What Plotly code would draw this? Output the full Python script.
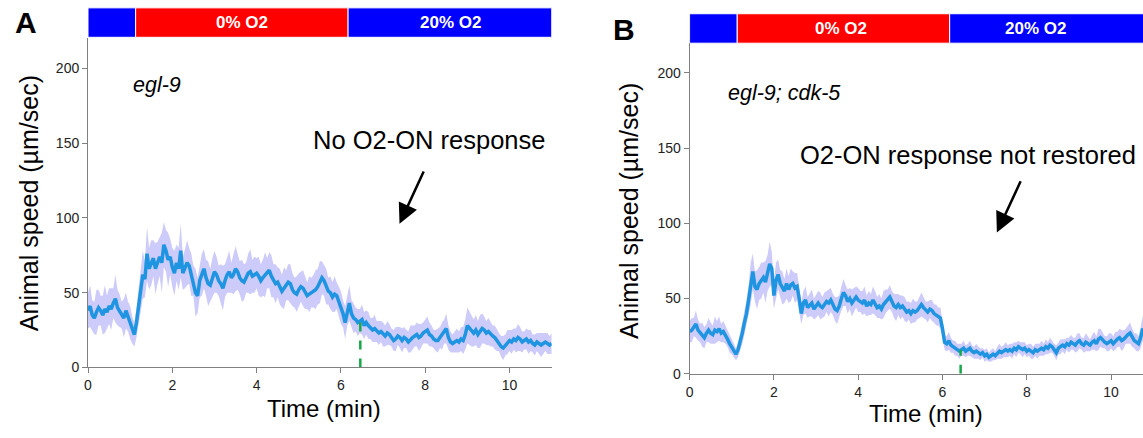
import numpy as np
import plotly.graph_objects as go

# ---- data -------------------------------------------------------------
DT = 0.05  # sampling interval of the speed traces (min)

# panel A: egl-9, mean animal speed (um/sec) and SEM
speed_a = [
    38, 41, 35, 33, 37, 40, 38, 35, 39, 37, 41, 39, 43, 46, 40, 38, 35, 33, 38, 34,
    30, 25, 22, 30, 40, 50, 62, 59, 76, 66, 70, 73, 66, 70, 74, 70, 82, 78, 72, 74,
    67, 63, 70, 66, 78, 63, 66, 70, 68, 62, 58, 50, 48, 58, 62, 66, 60, 56, 55, 60,
    64, 62, 58, 56, 53, 58, 62, 64, 60, 62, 66, 64, 60, 58, 57, 60, 63, 64, 61, 62,
    63, 61, 58, 60, 62, 63, 65, 61, 58, 56, 57, 54, 51, 53, 55, 57, 56, 52, 50, 49,
    52, 54, 53, 50, 48, 49, 50, 51, 52, 54, 57, 60, 58, 54, 51, 50, 47, 49, 48, 44,
    40, 36, 30, 38, 43, 36, 33, 32, 30, 31, 32, 28, 30, 28, 26, 25, 26, 24, 23, 24,
    22, 21, 23, 22, 20, 18, 19, 21, 20, 18, 20, 19, 17, 19, 20, 21, 22, 20, 21, 23,
    24, 25, 22, 21, 19, 18, 18, 20, 21, 24, 26, 20, 17, 16, 17, 18, 17, 19, 18, 22,
    28, 26, 24, 23, 25, 22, 24, 26, 25, 23, 24, 22, 21, 20, 18, 17, 14, 13, 15, 17,
    18, 17, 19, 18, 20, 19, 17, 18, 19, 17, 18, 16, 15, 17, 16, 15, 16, 17, 16, 15, 16,
]
sem_a = [
    12, 14, 10, 11, 15, 12, 10, 13, 16, 11, 12, 14, 10, 16, 12, 11, 9, 13, 12, 10,
    11, 9, 8, 10, 12, 13, 16, 12, 18, 14, 15, 12, 17, 14, 13, 20, 15, 14, 18, 12,
    13, 15, 12, 14, 18, 11, 13, 15, 12, 14, 10, 16, 12, 11, 14, 13, 12, 15, 11, 13,
    14, 12, 10, 13, 15, 11, 12, 14, 10, 13, 15, 12, 11, 14, 12, 10, 13, 15, 11, 12,
    10, 13, 11, 12, 15, 10, 12, 14, 11, 13, 10, 12, 11, 14, 10, 12, 13, 11, 10, 12,
    11, 10, 12, 11, 9, 12, 10, 11, 13, 12, 14, 11, 10, 12, 9, 11, 10, 12, 9, 10,
    11, 9, 11, 10, 12, 9, 10, 8, 9, 8, 10, 9, 8, 9, 7, 8, 9, 7, 8, 7,
    8, 7, 8, 7, 6, 7, 8, 6, 7, 8, 7, 6, 7, 9, 8, 7, 8, 9, 8, 7,
    8, 9, 8, 7, 6, 7, 8, 7, 9, 8, 10, 8, 7, 6, 7, 8, 7, 8, 9, 10,
    12, 11, 10, 9, 10, 9, 11, 10, 9, 8, 9, 8, 7, 8, 7, 6, 7, 8, 7, 8,
    7, 8, 7, 8, 9, 8, 7, 6, 7, 8, 7, 6, 7, 6, 7, 8, 7, 6, 7, 6, 7,
]

# panel B: egl-9; cdk-5, mean animal speed (um/sec) and SEM
speed_b = [
    28, 29, 31, 33, 29, 27, 26, 24, 27, 29, 27, 26, 29, 28, 30, 27, 28, 26, 23, 20,
    18, 15, 13, 16, 21, 27, 34, 40, 49, 60, 68, 58, 56, 60, 62, 64, 61, 67, 73, 70,
    52, 62, 66, 60, 57, 55, 60, 56, 59, 60, 57, 58, 50, 40, 47, 49, 44, 46, 47, 43,
    45, 47, 45, 44, 46, 48, 47, 49, 46, 43, 42, 45, 50, 54, 52, 48, 50, 47, 49, 51,
    49, 48, 47, 49, 45, 47, 46, 49, 47, 44, 45, 43, 46, 48, 49, 51, 48, 45, 44, 46,
    44, 45, 43, 41, 42, 40, 42, 41, 42, 44, 46, 44, 42, 41, 43, 42, 40, 39, 38, 37,
    30, 21, 20, 22, 19, 18, 17, 16, 15, 16, 17, 15, 16, 17, 15, 14, 15, 14, 13, 14,
    12, 13, 11, 12, 13, 12, 14, 15, 14, 15, 16, 15, 16, 15, 17, 16, 18, 17, 16, 17,
    15, 16, 15, 14, 16, 15, 16, 17, 16, 18, 17, 19, 18, 16, 14, 17, 18, 19, 18, 20,
    19, 21, 20, 19, 21, 22, 20, 19, 21, 20, 19, 21, 22, 20, 23, 24, 22, 21, 20, 21,
    22, 20, 22, 23, 24, 22, 23, 25, 26, 27, 24, 22, 21, 20, 24, 30, 27,
]
sem_b = [
    7, 8, 6, 9, 7, 6, 8, 7, 6, 8, 7, 6, 9, 7, 8, 6, 7, 6, 5, 6,
    5, 4, 4, 5, 6, 7, 8, 9, 10, 14, 12, 10, 13, 11, 12, 10, 14, 12, 15, 11,
    9, 12, 10, 9, 11, 8, 10, 9, 11, 8, 10, 9, 8, 7, 8, 9, 7, 8, 9, 7,
    8, 8, 9, 7, 8, 7, 9, 8, 7, 8, 9, 7, 8, 9, 7, 8, 7, 9, 8, 7,
    8, 7, 8, 9, 7, 8, 7, 9, 8, 7, 8, 7, 9, 8, 7, 8, 7, 8, 9, 7,
    8, 7, 8, 7, 6, 7, 8, 7, 6, 7, 8, 7, 6, 7, 6, 7, 6, 7, 6, 7,
    6, 5, 5, 6, 5, 4, 5, 4, 5, 4, 5, 4, 4, 5, 4, 4, 5, 4, 4, 3,
    4, 4, 3, 4, 4, 3, 4, 5, 4, 4, 5, 4, 4, 5, 4, 5, 4, 4, 5, 4,
    4, 4, 5, 4, 4, 5, 4, 5, 4, 5, 4, 5, 4, 4, 5, 4, 5, 4, 5, 4,
    5, 5, 4, 5, 6, 5, 4, 5, 6, 5, 4, 5, 6, 5, 7, 6, 5, 4, 5, 6,
    5, 5, 6, 5, 6, 7, 6, 5, 6, 7, 6, 5, 6, 5, 7, 8, 7,
]

# oxygen phases shown in the bar above each panel
phase_edges = [0, 1.13, 6.17, 11.0]
phase_colors = ["#0000ff", "#ff0000", "#0000ff"]
phase_labels = ["", "0% O2", "20% O2"]
phase_label_x_a = [None, 3.65, 8.6]
phase_label_x_b = [None, 3.6, 8.2]

# green dashed marker (time, speed) for each panel
marker_t = [6.46, 6.43]
marker_v = [30, 16]

# ---- layout helpers -----------------------------------------------------
W, H = 1143, 438
FONT = "Liberation Sans, Arial, Helvetica, sans-serif"
LINE_BLUE = "#1f95e2"
BAND = "#cdcbfa"
AXIS_GREY = "#808080"


def px(x):
    return x / W


def py(y):
    return 1 - y / H


fig = go.Figure()


def add_panel(speed, sem, xa, ya, mt, mv):
    n = len(speed)
    t = [round(i * DT, 2) for i in range(n)]
    s = np.array(speed, float)
    e = np.array(sem, float)
    upper = list(s + e)
    lower = list(np.clip(s - e, 0, None))
    fig.add_trace(go.Scatter(
        x=t + t[::-1], y=upper + lower[::-1], fill="toself",
        fillcolor=BAND, line=dict(width=0), mode="lines",
        hoverinfo="skip", showlegend=False, xaxis=xa, yaxis=ya))
    fig.add_trace(go.Scatter(
        x=t, y=speed, mode="lines", line=dict(color=LINE_BLUE, width=3.5),
        showlegend=False, xaxis=xa, yaxis=ya))
    fig.add_trace(go.Scatter(
        x=[mt, mt], y=[0, mv], mode="lines",
        line=dict(color="#18a84a", width=2.5, dash="dash"),
        showlegend=False, xaxis=xa, yaxis=ya))


add_panel(speed_a, sem_a, "x", "y", marker_t[0], marker_v[0])
add_panel(speed_b, sem_b, "x2", "y2", marker_t[1], marker_v[1])

shapes = []
annotations = []


def add_phase_bar(xref, y_top, y_bot, label_x):
    for i in range(len(phase_colors)):
        shapes.append(dict(
            type="rect", xref=xref, yref="paper",
            x0=phase_edges[i], x1=phase_edges[i + 1],
            y0=py(y_bot), y1=py(y_top),
            fillcolor=phase_colors[i], line=dict(color="white", width=1),
            layer="above"))
        if phase_labels[i]:
            annotations.append(dict(
                xref=xref, yref="paper", x=label_x[i], y=py((y_top + y_bot) / 2),
                text="<b>%s</b>" % phase_labels[i], showarrow=False,
                font=dict(family=FONT, size=17, color="white"),
                xanchor="center", yanchor="middle"))


add_phase_bar("x", 8, 38, phase_label_x_a)
add_phase_bar("x2", 14, 44, phase_label_x_b)


def text(x, y, s, size, angle=0, anchor="center", color="black"):
    annotations.append(dict(
        xref="paper", yref="paper", x=px(x), y=py(y), text=s, showarrow=False,
        textangle=angle, xanchor=anchor, yanchor="middle",
        font=dict(family=FONT, size=size, color=color)))


# panel letters
text(22, 23, "<b>A</b>", 30)
text(622, 30, "<b>B</b>", 30)
# axis titles
text(25, 207, "Animal speed (µm/sec)", 25, angle=-90)
text(627, 215, "Animal speed (µm/sec)", 25, angle=-90)
text(321, 416, "Time (min)", 24)
text(925, 421, "Time (min)", 24)
# genotypes
text(127, 87, "<i>egl-9</i>", 21.5, anchor="left")
text(725, 95, "<i>egl-9; cdk-5</i>", 21.5, anchor="left")
# response notes
text(545, 143, "No O2-ON response", 25.5, anchor="right")
text(797, 158, "O2-ON response not restored", 25.5, anchor="left")

# arrows pointing at the reoxygenation period
annotations.append(dict(
    xref="x", yref="y", axref="x", ayref="y", x=7.39, y=96, ax=7.98, ay=132,
    text="", showarrow=True, arrowhead=2, arrowsize=1.6, arrowwidth=2.5,
    arrowcolor="black", standoff=0))
annotations.append(dict(
    xref="x2", yref="y2", axref="x2", ayref="y2", x=7.29, y=94, ax=7.87, ay=129,
    text="", showarrow=True, arrowhead=2, arrowsize=1.6, arrowwidth=2.5,
    arrowcolor="black", standoff=0))

axis_common = dict(
    showline=True, linecolor=AXIS_GREY, linewidth=1, ticks="outside",
    ticklen=5, tickcolor=AXIS_GREY, showgrid=False, zeroline=False,
    tickfont=dict(family=FONT, size=14, color="#222"))

x_ticks = [0, 2, 4, 6, 8, 10]
y_ticks = [0, 50, 100, 150, 200]

fig.update_layout(
    width=W, height=H, margin=dict(l=0, r=0, t=0, b=0),
    paper_bgcolor="white", plot_bgcolor="white",
    font=dict(family=FONT),
    xaxis=dict(domain=[px(84.3), px(84.3 + 11 * 42.3)], range=[0, 11],
               anchor="y", tickvals=x_ticks, **axis_common),
    yaxis=dict(domain=[py(374.3), py(39)], range=[0, 220], anchor="x",
               tickvals=y_ticks, **axis_common),
    xaxis2=dict(domain=[px(688), 1.0], range=[0, (W - 688) / 42.3],
                anchor="y2", tickvals=x_ticks, **axis_common),
    yaxis2=dict(domain=[py(380.7), py(43.7)], range=[0, 220], anchor="x2",
                tickvals=y_ticks, **axis_common),
    shapes=shapes, annotations=annotations, showlegend=False)

fig.write_html("out.html")
